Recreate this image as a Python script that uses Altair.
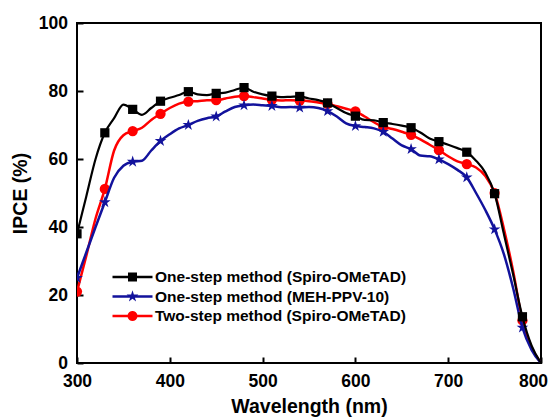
import altair as alt
import pandas as pd

# ---- data ----
wavelength = list(range(300, 801, 10))

one_step_spiro = [38, 49, 60, 67.7, 72, 76, 74.6, 73, 75, 77,
                  78, 78.8, 79.8, 79, 78.8, 79.3, 79.5, 80.3, 81, 79.8,
                  79, 78.5, 78.2, 78.3, 78.4, 77.8, 77.3, 76.5, 75, 73.5,
                  72.6, 71.5, 71.4, 70.7, 70.3, 69.8, 69.2, 67.8, 66, 65.1,
                  64.2, 63.2, 62, 59.5, 56, 49.8, 38, 26, 13.6, 5,
                  0]
one_step_meh = [25, 32.5, 40, 47.3, 54.5, 58, 59.2, 59.5, 62.5, 65.3,
                67.3, 69, 70, 71.2, 72, 72.5, 74, 75.3, 75.8, 76,
                75.8, 75.6, 75.2, 75.3, 75.1, 75.3, 75, 74.1, 72.5, 70.5,
                69.7, 69.4, 69, 68, 66, 64, 62.9, 61, 60.8, 59.9,
                58.5, 56.8, 54.6, 50, 45, 39.3, 32, 22, 10.4, 3.8,
                0]
two_step_spiro = [21, 31.5, 42.5, 51.2, 62.5, 67, 68.2, 69.2, 71.5, 73.3,
                  75, 76.3, 76.9, 77, 77.3, 77.3, 77.8, 78.3, 78.5, 78.2,
                  77.8, 77.4, 77.2, 77.3, 77.2, 77, 76.6, 76.2, 75.5, 74.8,
                  74, 72.5, 70.8, 69.4, 68.8, 68, 67.1, 65.8, 64.2, 62.6,
                  60.8, 59.3, 58.5, 57.5, 55, 50, 39.5, 27, 12.5, 4.5,
                  0]

series_names = ["One-step method (Spiro-OMeTAD)",
                "One-step method (MEH-PPV-10)",
                "Two-step method (Spiro-OMeTAD)"]
series_values = [one_step_spiro, one_step_meh, two_step_spiro]

x_ticks = [300, 400, 500, 600, 700, 800]
y_ticks = [0, 20, 40, 60, 80, 100]
marker_every = 30

# ---- styles ----
FONT = "Liberation Sans"
series_colors = ["#000000", "#12129c", "#ff0000"]
line_widths = [2.2, 2.5, 2.5]
STAR = ("M0,-1L0.2234,-0.3074L0.9511,-0.309L0.3614,0.1174L0.5878,0.809L0,0.38"
        "L-0.5878,0.809L-0.3614,0.1174L-0.9511,-0.309L-0.2234,-0.3074Z")
marker_shapes = ["square", STAR, "circle"]
marker_sizes = [85, 150, 105]
SQ_LINE = "M-2,-0.12H-0.45V-0.45H0.45V-0.12H2V0.12H0.45V0.45H-0.45V0.12H-2Z"
CI_LINE = ("M-2,-0.12H-0.485A0.5,0.5 0 0 1 0.485,-0.12H2V0.12H0.485"
           "A0.5,0.5 0 0 1 -0.485,0.12H-2Z")
ST_LINE = ("M0,-0.62L0.139,-0.191L0.59,-0.19L0.224,0.073L0.364,0.5L0,0.236"
           "L-0.364,0.5L-0.224,0.073L-0.59,-0.19L-0.139,-0.191Z M-2,-0.12H2V0.12H-2Z")
legend_shapes = [SQ_LINE, ST_LINE, CI_LINE]

records = []
for name, vals in zip(series_names, series_values):
    for w, v in zip(wavelength, vals):
        records.append({"series": name, "wavelength": w, "ipce": v})
df = pd.DataFrame(records)

x_enc = alt.X(
    "wavelength:Q",
    scale=alt.Scale(domain=[300, 800], nice=False),
    axis=alt.Axis(values=x_ticks, title="Wavelength (nm)", grid=False, domain=False,
                  offset=-6, tickSize=6, tickWidth=2, tickColor="black",
                  labelFont=FONT, labelFontSize=17.5, labelFontWeight="bold",
                  labelColor="black", labelPadding=9, labelOverlap=False, labelFlush=False,
                  labelOffset={"condition": {"test": "datum.value === 800", "value": -8},
                               "value": 0},
                  titleFont=FONT, titleFontSize=19.5, titleFontWeight="bold",
                  titleColor="black", titlePadding=8),
)
y_enc = alt.Y(
    "ipce:Q",
    scale=alt.Scale(domain=[0, 100], nice=False),
    axis=alt.Axis(values=y_ticks, title="IPCE (%)", grid=False, domain=False,
                  offset=-6, tickSize=6, tickWidth=2, tickColor="black",
                  labelFont=FONT, labelFontSize=17.5, labelFontWeight="bold",
                  labelColor="black", labelPadding=9.5, labelOverlap=False, labelFlush=False,
                  titleFont=FONT, titleFontSize=19.5, titleFontWeight="bold",
                  titleColor="black", titlePadding=8),
)

base = alt.Chart(df)

legend_def = alt.Legend(title=None, orient="none", legendX=45.5, legendY=244,
                        symbolSize=400, symbolStrokeWidth=0, symbolOpacity=1,
                        labelFont=FONT, labelFontSize=15.5, labelFontWeight="bold",
                        labelColor="black", labelOffset=12.5, labelLimit=0,
                        rowPadding=0.5, padding=0)

legend_layer = base.transform_filter("false").mark_point(
    filled=True, size=400, opacity=1, strokeWidth=0
).encode(
    x=x_enc, y=y_enc,
    color=alt.Color("series:N", scale=alt.Scale(domain=series_names, range=series_colors),
                    legend=legend_def),
    shape=alt.Shape("series:N", scale=alt.Scale(domain=series_names, range=legend_shapes),
                    legend=legend_def),
)

layers = [legend_layer]
for i in [2, 1, 0]:
    name = series_names[i]
    line = base.transform_filter(alt.datum.series == name).mark_line(
        color=series_colors[i], strokeWidth=line_widths[i], interpolate="monotone", clip=True
    ).encode(x=x_enc, y=y_enc)
    pts = base.transform_filter(
        f"datum.series === '{name}' && (datum.wavelength - 300) % {marker_every} === 0 && datum.wavelength < 800"
    ).mark_point(
        shape=marker_shapes[i], size=marker_sizes[i], filled=True, opacity=1,
        color=series_colors[i], strokeWidth=0, clip=True
    ).encode(x=x_enc, y=y_enc)
    layers += [line, pts]

chart = alt.layer(*layers).properties(
    width=464, height=340,
    autosize=alt.AutoSizeParams(type="none"),
    padding={"left": 69, "top": 15, "right": 7, "bottom": 56},
    background="white",
).configure_view(stroke="black", strokeWidth=2)

chart.save("out.html", embed_options={"renderer": "svg", "actions": False})
